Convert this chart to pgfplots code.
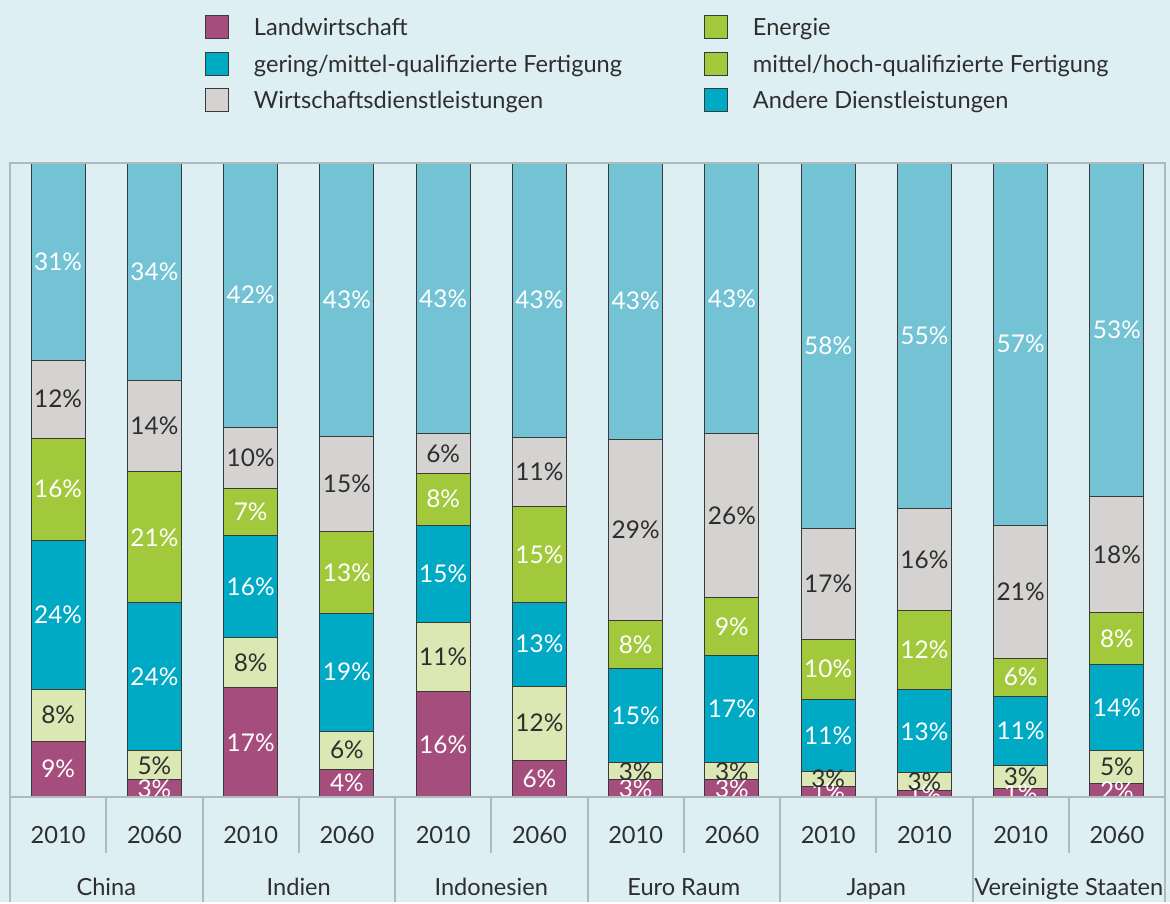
\documentclass[border=0pt]{standalone}
\usepackage{pgfplots}
\pgfplotsset{compat=1.18}
\usepackage{pgfplotstable}
\usepackage{fontspec}
\setmainfont{Lato}
\definecolor{cpurple}{HTML}{A54E7D}
\definecolor{clight}{HTML}{DCE8B4}
\definecolor{cteal}{HTML}{00AAC4}
\definecolor{cgreen}{HTML}{A2C93C}
\definecolor{cgray}{HTML}{D5D3D1}
\definecolor{cblue}{HTML}{73C3D5}
\definecolor{bg}{HTML}{DEEFF3}
\definecolor{frame}{HTML}{B0B9BD}
\definecolor{txt}{HTML}{2E2E2E}
\definecolor{edge}{HTML}{3A3A3A}

\pgfplotstableread{
x a b c d e f la lb lc ld le lf
0 8.8 8.2 23.5 16.1 12.3 31.1 9 8 24 16 12 31
1 2.7 4.6 23.3 20.7 14.4 34.4 3 5 24 21 14 34
2 17.2 7.9 16.2 7.4 9.6 41.7 17 8 16 7 10 42
3 4.4 6.0 18.6 12.8 15.1 43.1 4 6 19 13 15 43
4 16.6 11.0 15.3 8.2 6.2 42.7 16 11 15 8 6 43
5 5.8 11.7 13.2 15.1 10.9 43.3 6 12 13 15 11 43
6 2.7 2.7 14.8 7.7 28.5 43.6 3 3 15 8 29 43
7 2.7 2.7 16.9 9.1 25.9 42.7 3 3 17 9 26 43
8 1.6 2.4 11.4 9.5 17.5 57.6 1 3 11 10 17 58
9 1.1 2.7 13.1 12.5 16.1 54.5 1 3 13 12 16 55
10 1.4 3.5 11.0 6.0 21.0 57.1 1 3 11 6 21 57
11 2.1 5.2 13.6 8.2 18.3 52.6 2 5 14 8 18 53
}\data
\pgfplotstablecreatecol[create col/expr={\thisrow{a}/2}]{ma}\data
\pgfplotstablecreatecol[create col/expr={\thisrow{a}+\thisrow{b}/2}]{mb}\data
\pgfplotstablecreatecol[create col/expr={\thisrow{a}+\thisrow{b}+\thisrow{c}/2}]{mc}\data
\pgfplotstablecreatecol[create col/expr={\thisrow{a}+\thisrow{b}+\thisrow{c}+\thisrow{d}/2}]{md}\data
\pgfplotstablecreatecol[create col/expr={\thisrow{a}+\thisrow{b}+\thisrow{c}+\thisrow{d}+\thisrow{e}/2}]{me}\data
\pgfplotstablecreatecol[create col/expr={\thisrow{a}+\thisrow{b}+\thisrow{c}+\thisrow{d}+\thisrow{e}+\thisrow{f}/2}]{mf}\data

\newcommand{\fs}{\fontsize{11.8}{14}\selectfont}
\newcommand{\ls}{\fontsize{12.2}{14}\selectfont}
\newcommand{\lgs}{\rule[-3pt]{0pt}{12pt}}

\pgfplotsset{
  common/.style={
    at={(5pt,52.5pt)}, anchor=south west,
    width=577.5pt, height=317pt, scale only axis,
    xmin=-0.5, xmax=11.5, ymin=0, ymax=100,
    axis line style={draw=none}, xtick=\empty, ytick=\empty,
    clip=false,
  },
}

\begin{document}
\begin{tikzpicture}
\fill[bg] (0,0) rectangle (585pt,451pt);

\begin{axis}[common,
  ybar stacked, bar width=0.56,
  legend columns=2,
  legend cell align=left,
  legend image code/.code={\draw[#1, draw=edge, line width=0.5pt] (0pt,-5.25pt) rectangle (11.5pt,6.25pt);},
  legend style={at={(0.1688,1.2334)}, anchor=north west, draw=none, fill=none,
    inner sep=0pt, outer sep=0pt, column sep=12.5pt, row sep=6.25pt,
    nodes={inner sep=0pt, font=\fs, text=txt}},
]
\addlegendimage{fill=cpurple}\addlegendentry{\makebox[212.5pt][l]{\lgs Landwirtschaft}}
\addlegendimage{fill=cgreen}\addlegendentry{\lgs Energie}
\addlegendimage{fill=cteal}\addlegendentry{\makebox[212.5pt][l]{\lgs gering/mittel-qualifizierte Fertigung}}
\addlegendimage{fill=cgreen}\addlegendentry{\lgs mittel/hoch-qualifizierte Fertigung}
\addlegendimage{fill=cgray}\addlegendentry{\makebox[212.5pt][l]{\lgs Wirtschaftsdienstleistungen}}
\addlegendimage{fill=cteal}\addlegendentry{\lgs Andere Dienstleistungen}

\addplot[forget plot, fill=cpurple, draw=edge, line width=0.5pt] table[x=x,y=a]{\data};
\addplot[forget plot, fill=clight, draw=edge, line width=0.5pt] table[x=x,y=b]{\data};
\addplot[forget plot, fill=cteal, draw=edge, line width=0.5pt] table[x=x,y=c]{\data};
\addplot[forget plot, fill=cgreen, draw=edge, line width=0.5pt] table[x=x,y=d]{\data};
\addplot[forget plot, fill=cgray, draw=edge, line width=0.5pt] table[x=x,y=e]{\data};
\addplot[forget plot, fill=cblue, draw=edge, line width=0.5pt] table[x=x,y=f]{\data};
\end{axis}

\begin{axis}[common,
  nodes near coords={\pgfplotspointmeta\%},
  point meta=explicit symbolic,
  every node near coord/.append style={anchor=center, inner sep=0pt, font=\ls},
]
\addplot[draw=none, mark=none, nodes near coords style={text=white}] table[x=x,y=ma,meta=la]{\data};
\addplot[draw=none, mark=none, nodes near coords style={text=txt}] table[x=x,y=mb,meta=lb]{\data};
\addplot[draw=none, mark=none, nodes near coords style={text=white}] table[x=x,y=mc,meta=lc]{\data};
\addplot[draw=none, mark=none, nodes near coords style={text=white}] table[x=x,y=md,meta=ld]{\data};
\addplot[draw=none, mark=none, nodes near coords style={text=txt}] table[x=x,y=me,meta=le]{\data};
\addplot[draw=none, mark=none, nodes near coords style={text=white}] table[x=x,y=mf,meta=lf]{\data};
\end{axis}

\fill[bg] (0,0) rectangle (585pt,52.5pt);
\begin{scope}[draw=frame, line width=1pt]
\draw (5pt,0) -- (5pt,369.5pt) -- (582.5pt,369.5pt) -- (582.5pt,0);
\draw (5pt,52.5pt) -- (582.5pt,52.5pt);
\foreach \i in {1,3,5,7,9,11} \draw (5pt+\i*48.125pt,52.5pt) -- ++(0,-28pt);
\foreach \i in {2,4,6,8,10} \draw (5pt+\i*48.125pt,52.5pt) -- ++(0,-52.5pt);
\end{scope}
\foreach \i/\t in {0/2010,1/2060,2/2010,3/2060,4/2010,5/2060,6/2010,7/2060,8/2010,9/2010,10/2010,11/2060}
  \node[anchor=base, font=\fs, text=txt, inner sep=0pt] at (5pt+\i*48.125pt+24.0625pt,29pt) {\t};
\foreach \i/\t in {0/China,1/Indien,2/Indonesien,3/Euro Raum,4/Japan,5/Vereinigte Staaten}
  \node[anchor=base, font=\fs, text=txt, inner sep=0pt] at (5pt+\i*96.25pt+48.125pt,3.5pt) {\t};
\end{tikzpicture}
\end{document}
